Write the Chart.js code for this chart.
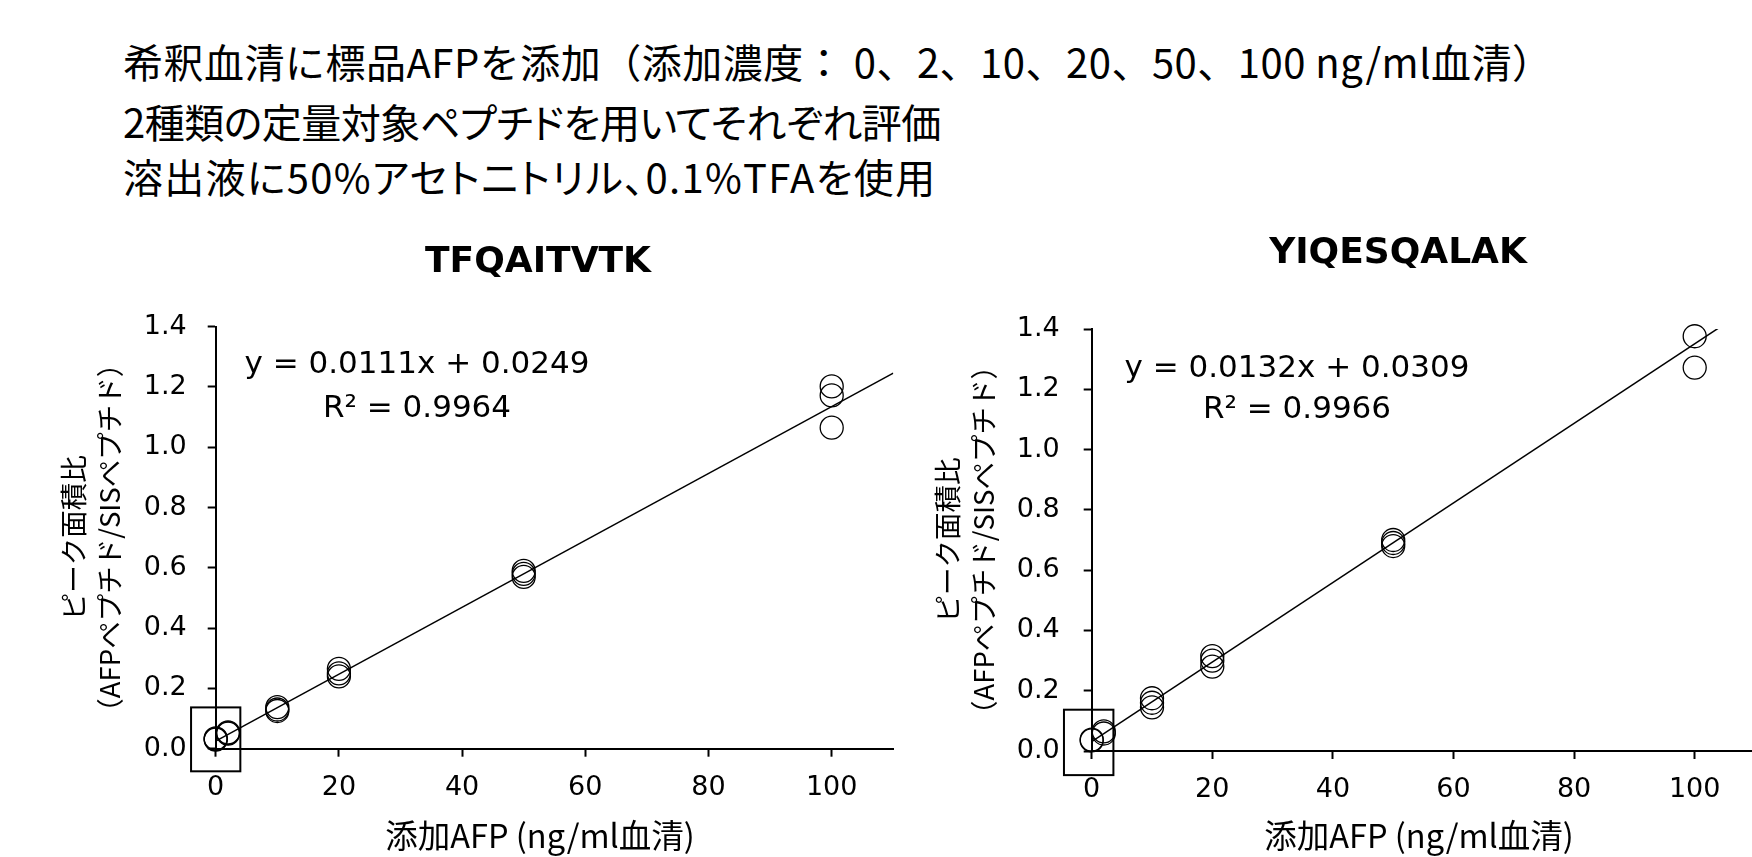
<!DOCTYPE html>
<html lang="ja">
<head>
<meta charset="UTF-8">
<title>AFP 添加検量線</title>
<script src="https://cdn.jsdelivr.net/npm/chart.js"></script>
<style>
  body {
    margin: 0;
    width: 1752px;
    height: 857px;
    overflow: hidden;
    position: relative;
    background: #fff;
    font-family: "Noto Sans CJK JP", sans-serif;
  }
  .note {
    position: absolute;
    left: 123px;
    font-size: 40px;
    line-height: 48px;
    color: #000;
    white-space: nowrap;
  }
  .prop { font-feature-settings: "palt"; }
  #left { position: absolute; left: 0; top: 200px; }
  #right { position: absolute; left: 900px; top: 200px; }
</style>
</head>
<body>
<div class="note" style="top:37px; letter-spacing:0.5px">希釈血清に標品AFPを添加（添加濃度： 0、2、10、20、50、100 ng/ml血清）</div>
<div class="note prop" style="top:97px; letter-spacing:-0.5px">2種類の定量対象ペプチドを用いてそれぞれ評価</div>
<div class="note prop" style="top:152px; letter-spacing:1.3px">溶出液に50%アセトニトリル、0.1%TFAを使用</div>

<canvas id="left" width="900" height="657"></canvas>
<canvas id="right" width="860" height="657"></canvas>

<script>
// data
const peptides = ['TFQAITVTK', 'YIQESQALAK'];

const tfqDose  = [0, 0, 0, 2, 2, 2, 10, 10, 10, 20, 20, 20, 50, 50, 50, 100, 100, 100];
const tfqRatio = [0.030, 0.032, 0.034, 0.050, 0.052, 0.054, 0.125, 0.130, 0.138,
                  0.240, 0.250, 0.265, 0.570, 0.580, 0.590, 1.065, 1.172, 1.202];

const yiqDose  = [0, 0, 2, 2, 10, 10, 10, 20, 20, 20, 50, 50, 50, 100, 100];
const yiqRatio = [0.035, 0.038, 0.058, 0.065, 0.145, 0.160, 0.175,
                  0.280, 0.300, 0.315, 0.680, 0.690, 0.700, 1.272, 1.376];

// linear fit shown on the chart
const slopes = [0.0111, 0.0132];
const intercepts = [0.0249, 0.0309];
const rSquared = [0.9964, 0.9966];
const lineX = [0, 110];

const xTicks = [0, 20, 40, 60, 80, 100];
const yTicks = [0, 0.2, 0.4, 0.6, 0.8, 1.0, 1.2, 1.4];

const yTitle = ['ピーク面積比', '（AFPペプチド/SISペプチド）'];
const xTitle = '添加AFP (ng/ml血清)';

const tickFont = { family: '"DejaVu Sans", sans-serif', size: 27 };

// draws the peptide title, fit equation, x-axis title and the box at the origin
const annotPlugin = {
    id: 'annot',
    afterDatasetsDraw(chart, args, o) {
        const ctx = chart.ctx;
        const xs = chart.scales.x, ys = chart.scales.y;
        ctx.save();

        ctx.strokeStyle = '#000';
        ctx.lineWidth = 2;
        const bx0 = xs.getPixelForValue(o.boxX[0]);
        const bx1 = xs.getPixelForValue(o.boxX[1]);
        const by0 = ys.getPixelForValue(o.boxY[1]);
        const by1 = ys.getPixelForValue(o.boxY[0]);
        ctx.strokeRect(bx0, by0, bx1 - bx0, by1 - by0);

        ctx.fillStyle = '#000';
        ctx.textAlign = 'center';
        ctx.textBaseline = 'middle';
        ctx.font = 'bold 36px "DejaVu Sans", sans-serif';
        ctx.fillText(o.title, o.titlePos[0], o.titlePos[1]);

        ctx.font = '32.5px "Noto Sans CJK JP", sans-serif';
        ctx.fillText(xTitle, o.xTitlePos[0], o.xTitlePos[1]);

        ctx.textBaseline = 'alphabetic';
        ctx.font = '31px "DejaVu Sans", sans-serif';
        ctx.fillText(o.eq[0], o.eqPos[0], o.eqPos[1]);
        ctx.fillText(o.eq[1], o.eqPos[0], o.eqPos[2]);
        ctx.restore();
    }
};

function makeChart(id, i, dose, ratio, lay) {
    const pts = dose.map((d, k) => ({ x: d, y: ratio[k] }));
    const fit = lineX.map(x => ({ x: x, y: slopes[i] * x + intercepts[i] }));

    return new Chart(document.getElementById(id), {
        type: 'scatter',
        data: {
            datasets: [{
                data: pts,
                pointRadius: 11.5,
                pointBorderWidth: 1.3,
                pointBorderColor: '#000',
                pointBackgroundColor: 'rgba(0,0,0,0)',
                clip: false
            }, {
                type: 'line',
                data: fit,
                borderColor: '#000',
                borderWidth: 1.5,
                pointRadius: 0,
                fill: false
            }]
        },
        options: {
            responsive: false,
            animation: false,
            events: [],
            layout: { autoPadding: false, padding: { left: 0, top: lay.top, right: lay.right, bottom: 0 } },
            plugins: {
                legend: { display: false },
                tooltip: { enabled: false },
                annot: {
                    title: peptides[i],
                    titlePos: lay.titlePos,
                    xTitlePos: lay.xTitlePos,
                    eq: ['y = ' + slopes[i].toFixed(4) + 'x + ' + intercepts[i].toFixed(4),
                         'R² = ' + rSquared[i].toFixed(4)],
                    eqPos: lay.eqPos,
                    boxX: lay.boxX,
                    boxY: lay.boxY
                }
            },
            scales: {
                x: {
                    type: 'linear',
                    min: 0,
                    max: 110,
                    afterBuildTicks: s => { s.ticks = xTicks.map(v => ({ value: v })); },
                    afterFit: s => { s.height = lay.xHeight; },
                    grid: { drawOnChartArea: false, drawTicks: true, tickLength: 8, tickWidth: 2, tickColor: '#000' },
                    border: { display: true, color: '#000', width: 2 },
                    ticks: { color: '#000', font: tickFont, padding: 15, maxRotation: 0, autoSkip: false }
                },
                y: {
                    min: 0,
                    max: 1.4,
                    afterBuildTicks: s => { s.ticks = yTicks.map(v => ({ value: v })); },
                    afterFit: s => { s.width = lay.yWidth; },
                    grid: { drawOnChartArea: false, drawTicks: true, tickLength: 8, tickWidth: 2, tickColor: '#000' },
                    border: { display: true, color: '#000', width: 2 },
                    ticks: {
                        color: '#000', font: tickFont, padding: lay.yPad, autoSkip: false,
                        callback: v => v.toFixed(1)
                    },
                    title: {
                        display: true,
                        text: yTitle,
                        color: '#000',
                        font: { family: '"Noto Sans CJK JP", sans-serif', size: 27.5, lineHeight: 1.3 },
                        padding: { top: lay.yTitlePad, bottom: 0 }
                    }
                }
            }
        },
        plugins: [annotPlugin]
    });
}

makeChart('left', 0, tfqDose, tfqRatio, {
    top: 126.7, right: 6.7, xHeight: 108.3, yWidth: 215.7, yPad: 21, yTitlePad: 56,
    titlePos: [538, 63], xTitlePos: [540, 636],
    eqPos: [417, 172.7, 217.3],
    boxX: [-4, 4], boxY: [-0.075, 0.137]
});

makeChart('right', 1, yiqDose, yiqRatio, {
    top: 129, right: 5, xHeight: 106, yWidth: 191.7, yPad: 24, yTitlePad: 30,
    titlePos: [498, 54], xTitlePos: [519, 636],
    eqPos: [397, 176.7, 218.3],
    boxX: [-4.6, 3.6], boxY: [-0.08, 0.137]
});
</script>
</body>
</html>
